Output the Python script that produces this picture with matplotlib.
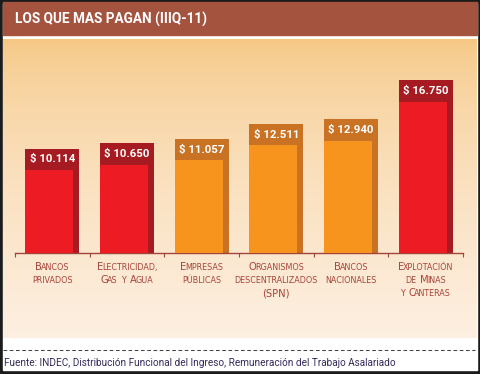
import numpy as np
import matplotlib.pyplot as plt
from matplotlib.patches import Rectangle
from matplotlib.lines import Line2D

W, H = 480, 374

categories = [
    ["Bancos", "privados"],
    ["Electricidad,", "Gas y Agua"],
    ["Empresas", "públicas"],
    ["Organismos", "descentralizados", "(SPN)"],
    ["Bancos", "nacionales"],
    ["Explotación", "de Minas", "y Canteras"],
]
values = [10114, 10650, 11057, 12511, 12940, 16750]
value_labels = ["$ 10.114", "$ 10.650", "$ 11.057", "$ 12.511", "$ 12.940", "$ 16.750"]
highlight = [True, True, False, False, False, True]

title = "LOS QUE MAS PAGAN (IIIQ-11)"
source = "Fuente: INDEC, Distribución Funcional del Ingreso, Remuneración del Trabajo Asalariado"

RED, RED_DARK = "#ED1C24", "#A61B22"
ORANGE, ORANGE_DARK = "#F7941D", "#C97224"
LABEL_COLOR = "#A8443A"


def fx(x):
    return x / W


def fy(y):
    return 1 - y / H


def small_caps(fig, text, cx, base_y, big=7.2, small=5.8, gap=3.8, kern=-1.3):
    # fake small caps: capitals at full size, lower case as smaller capitals
    renderer = fig.canvas.get_renderer()
    words = []
    for word in text.split(" "):
        runs = []
        for ch in word:
            size = big if (ch.isupper() or ch in "()") else small
            if runs and runs[-1][1] == size:
                runs[-1][0] += ch
            else:
                runs.append([ch, size])
        arts = []
        for k, (s, size) in enumerate(runs):
            t = fig.text(0, fy(base_y), s.upper(), fontsize=size, color=LABEL_COLOR,
                         ha="left", va="baseline", family="DejaVu Sans")
            w = t.get_window_extent(renderer).width
            if k < len(runs) - 1:
                w += kern
            arts.append((t, w))
        words.append(arts)
    total = sum(w for arts in words for _, w in arts) + gap * (len(words) - 1)
    x = cx - total / 2
    for arts in words:
        for t, w in arts:
            t.set_x(fx(x))
            x += w
        x += gap


fig = plt.figure(figsize=(W / 100, H / 100), dpi=100, facecolor="#1b1b1b")

# frame pieces
fig.add_artist(Rectangle((fx(3), fy(370)), fx(474), 367 / H, transform=fig.transFigure,
                         color="white", zorder=0))
fig.add_artist(Rectangle((fx(3), fy(35)), fx(474), 33 / H, transform=fig.transFigure,
                         color="#A4533F", zorder=1))
fig.text(fx(15), fy(19), title, color="white", fontsize=9.8, fontweight="bold",
         family="Roboto", ha="left", va="center")

# gradient panel
bg = fig.add_axes([fx(3), fy(338), fx(474), 299 / H])
top = np.array([0xF5, 0xC6, 0x80]) / 255
bottom = np.array([0xFD, 0xEF, 0xE1]) / 255
t = np.linspace(0, 1, 300)[:, None] ** 0.6
grad = top + (bottom - top) * t
bg.imshow(grad[:, None, :], aspect="auto", extent=[0, 1, 0, 1])
bg.set_axis_off()

# bars
ymax = 16750 * (253 - 39) / 173
band = 21.5 * ymax / (253 - 39)
ax = fig.add_axes([fx(15), fy(253), fx(448), (253 - 39) / H])
ax.set_facecolor("none")
x = np.arange(len(values))
vals = np.array(values)
dark = [RED_DARK if h else ORANGE_DARK for h in highlight]
light = [RED if h else ORANGE for h in highlight]
bw, fw = 0.722, 0.642
ax.bar(x, vals, width=bw, color=dark, zorder=2)
ax.bar(x - bw / 2, vals - band, width=fw, align="edge", color=light, zorder=3)
for xi, v, lab in zip(x, vals, value_labels):
    ax.text(xi, v - band / 2, lab, color="white", fontsize=8.2, fontweight="bold",
            family="Roboto", ha="center", va="center", zorder=4)

ax.set_xlim(-0.5, len(values) - 0.5)
ax.set_ylim(0, ymax)
for s in ["top", "left", "right"]:
    ax.spines[s].set_visible(False)
ax.spines["bottom"].set_color("#A0443A")
ax.spines["bottom"].set_linewidth(1)
ax.set_yticks([])
ax.set_xticks(np.arange(-0.5, len(values), 1.0))
ax.set_xticklabels([])
ax.tick_params(axis="x", length=3, width=0.8, color="#A0443A", direction="out")

# category labels in small caps
for i, lines in enumerate(categories):
    cx = ax.transData.transform((i, 0))[0]
    for j, line in enumerate(lines):
        small_caps(fig, line, cx, 270 + 13 * j)

# source line
fig.add_artist(Line2D([fx(3), fx(475)], [fy(350), fy(350)], transform=fig.transFigure,
                      color="#444444", lw=0.75, dashes=(3.5, 2.5)))
fig.text(fx(4), fy(366), source, color="#35295A", fontsize=7.2, family="Roboto",
         ha="left", va="baseline")

fig.savefig("out.png", dpi=100, facecolor=fig.get_facecolor())
